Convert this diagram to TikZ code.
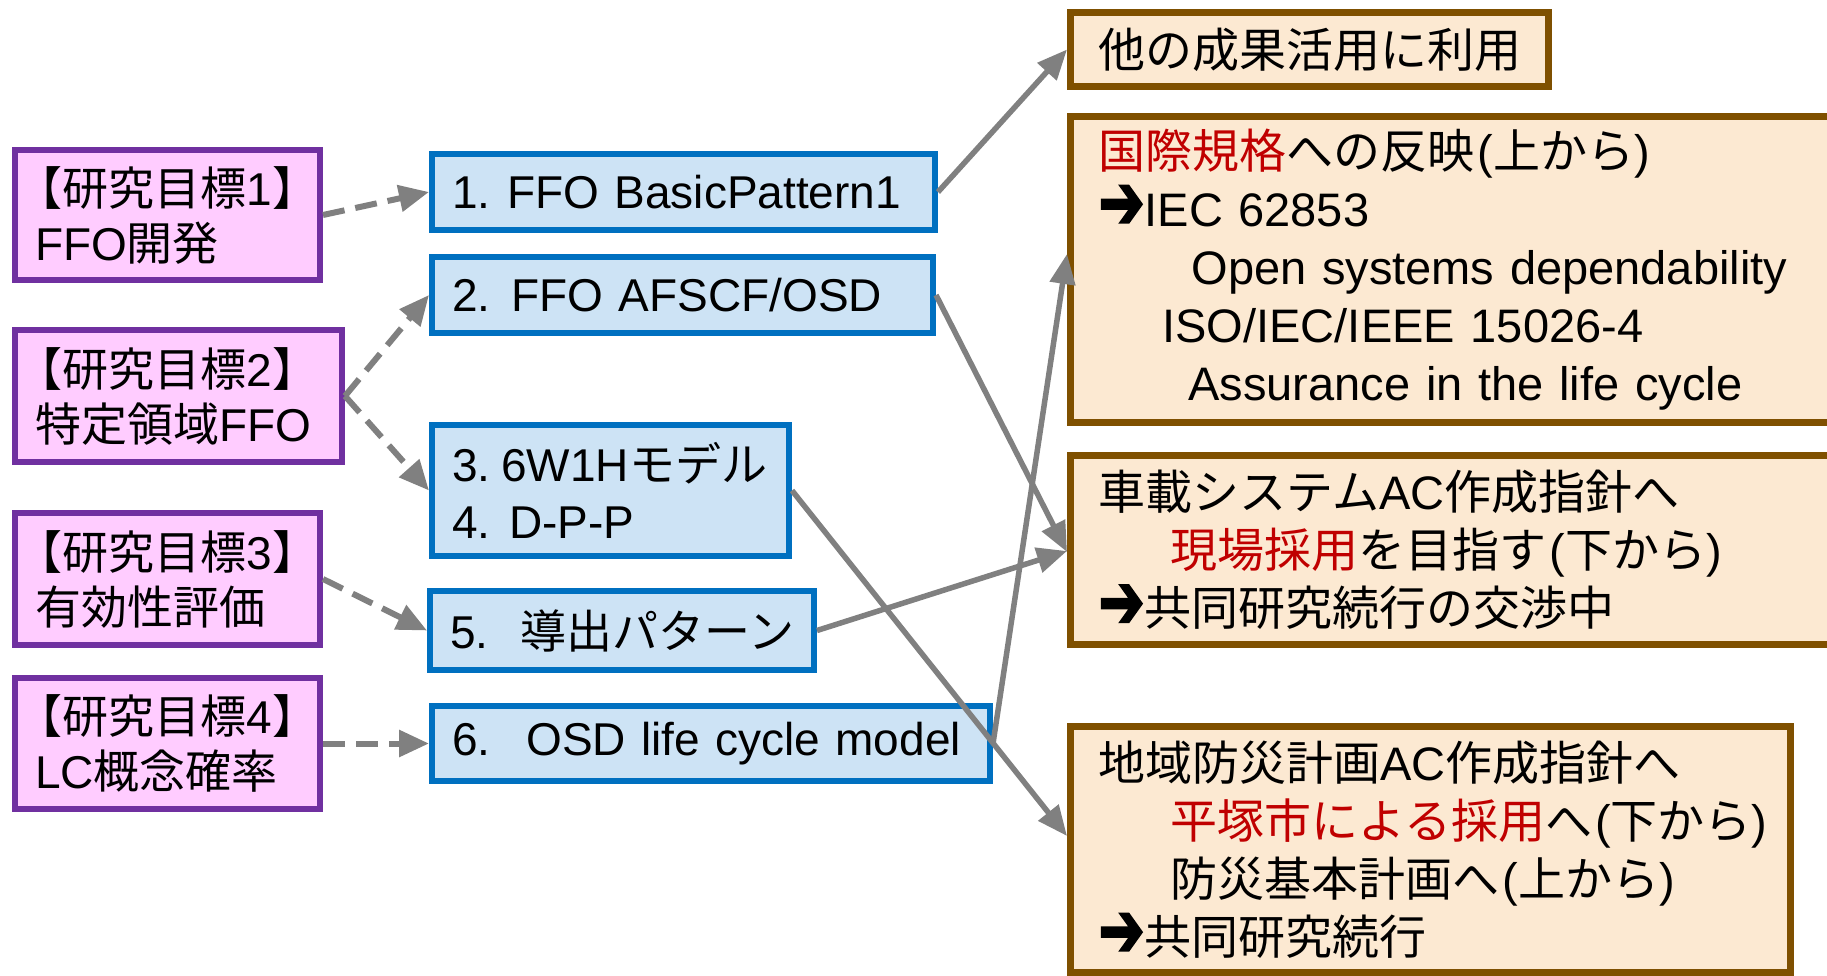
\documentclass[tikz,border=0pt]{standalone}
\usepackage{fontspec}
\usepackage{graphicx}
\setmainfont{Liberation Sans}
\newfontfamily\jpw{Noto Sans CJK JP}
\newfontfamily\symw[FakeBold=3]{DejaVu Sans}
\usetikzlibrary{arrows.meta,calc}

\definecolor{goalfill}{HTML}{FFCCFF}
\definecolor{goalline}{HTML}{7030A0}
\definecolor{itemfill}{HTML}{CDE3F5}
\definecolor{itemline}{HTML}{0070C0}
\definecolor{resfill}{HTML}{FCE9D2}
\definecolor{resline}{HTML}{7F5000}
\definecolor{linkgray}{HTML}{808080}
\definecolor{hilite}{HTML}{C00000}

% Japanese runs, red highlights and the heavy arrow mark
\newcommand\J[1]{{\jpw #1}}
\newcommand\Red[1]{\textcolor{hilite}{#1}}
\newcommand\Arr{{\symw\fontsize{55}{58}\selectfont\raisebox{-2pt}{\scalebox{1}[1.4]{➔}}}}

\tikzset{
  goalbox/.style={draw=goalline, fill=goalfill, line width=6pt, rectangle,
    inner xsep=20pt, inner ysep=0pt, align=left,
    font=\fontsize{46}{55}\selectfont},
  itembox/.style={draw=itemline, fill=itemfill, line width=6pt, rectangle,
    inner xsep=20pt, inner ysep=0pt, align=left,
    font=\fontsize{46}{57}\selectfont},
  resbox/.style={draw=resline, fill=resfill, line width=7pt, rectangle,
    inner xsep=28pt, inner ysep=0pt, align=left,
    font=\fontsize{47}{58}\selectfont},
  goallink/.style={draw=linkgray, line width=6pt, dash pattern=on 22pt off 11pt,
    -{Triangle[length=30pt,width=26pt]}},
  reslink/.style={draw=linkgray, line width=5.5pt,
    -{Triangle[length=30pt,width=25pt]}},
}

\begin{document}
\begin{tikzpicture}[x=1pt, y=-1pt]
\useasboundingbox (0,0) rectangle (1827,976);
\fill[white] (0,0) rectangle (1827,976);

% research goals
\node[goalbox, minimum width=305pt, minimum height=130pt, text width=265pt] (P1) at (167.5,215)
  {\J{\hspace*{-0.4em}【研究目標}1\J{】}\\FFO\J{開発}};
\node[goalbox, minimum width=327pt, minimum height=132pt, text width=287pt] (P2) at (178.5,396)
  {\J{\hspace*{-0.4em}【研究目標}2\J{】}\\\J{特定領域}FFO};
\node[goalbox, minimum width=305pt, minimum height=132pt, text width=265pt] (P3) at (167.5,579)
  {\J{\hspace*{-0.4em}【研究目標}3\J{】}\\\J{有効性評価}};
\node[goalbox, minimum width=305pt, minimum height=131pt, text width=265pt] (P4) at (167.5,743.5)
  {\J{\hspace*{-0.4em}【研究目標}4\J{】}\\LC\J{概念確率}};

% work items
\node[itembox, minimum width=503pt, minimum height=76pt, text width=463pt] (B1) at (683.5,192)
  {1.\hspace{17pt}FFO BasicPattern1};
\node[itembox, minimum width=501pt, minimum height=76pt, text width=461pt] (B2) at (682.5,295)
  {2.\hspace{21pt}FFO AFSCF/OSD};
\node[itembox, minimum width=357pt, minimum height=131pt, text width=317pt] (B3) at (610.5,490.5)
  {3.\hspace{11pt}6W1H\J{モデル}\\4.\hspace{19pt}D-P-P};
\node[itembox, minimum width=384pt, minimum height=79pt, text width=344pt] (B4) at (622,630.5)
  {\mbox{5.\hspace{32pt}\J{導出パターン}}};
\node[itembox, minimum width=558pt, minimum height=75pt, text width=518pt] (B5) at (711,743.5)
  {6.\hspace{36pt}OSD life cycle model};

% results
\node[resbox, minimum width=478pt, minimum height=74pt, text width=422pt] (T1) at (1309.5,49.5)
  {\J{他の成果活用に利用}};
\node[resbox, minimum width=786pt, minimum height=306pt, text width=730pt] (T2) at (1463.5,269.5)
  {\mbox{\Red{\J{国際規格}}\J{への反映}\hspace{3pt}(\J{上から})}\\
   \mbox{\Arr IEC 62853}\\
   \mbox{\hspace*{93pt}Open systems dependability}\\
   \mbox{\hspace*{64pt}ISO/IEC/IEEE 15026-4}\\
   \mbox{\hspace*{90pt}Assurance in the life cycle}};
\node[resbox, minimum width=786pt, minimum height=189pt, text width=730pt] (T3) at (1463.5,550)
  {\mbox{\J{車載システム}AC\J{作成指針へ}}\\
   \mbox{\hspace*{72pt}\Red{\J{現場採用}}\J{を目指す}\hspace{3pt}(\J{下から})}\\
   \mbox{\Arr\J{共同研究続行の交渉中}}};
\node[resbox, minimum width=720pt, minimum height=246pt, text width=664pt] (T4) at (1430.5,849.5)
  {\mbox{\J{地域防災計画}AC\J{作成指針へ}}\\
   \mbox{\hspace*{72pt}\Red{\J{平塚市による採用}}\J{へ}\hspace{3pt}(\J{下から})}\\
   \mbox{\hspace*{72pt}\J{防災基本計画へ}\hspace{3pt}(\J{上から})}\\
   \mbox{\Arr\J{共同研究続行}}};

% goals to work items
\draw[goallink] (P1.east) -- (B1.west);
\draw[goallink] (P2.east) -- (B2.west);
\draw[goallink] (P2.east) -- (B3.west);
\draw[goallink] (P3.east) -- (B4.west);
\draw[goallink] (P4.east) -- (B5.west);

% work items to results
\draw[reslink] (B1.east) -- (T1.west);
\draw[reslink] (B2.east) -- ([yshift=-2pt]T3.west);
\draw[reslink] (B3.east) -- ([yshift=-113pt]T4.north west);
\draw[reslink] (B4.east) -- ([yshift=-1pt]T3.west);
\draw[reslink] (B5.east) -- ([yshift=-141pt]T2.north west);
\end{tikzpicture}
\end{document}
